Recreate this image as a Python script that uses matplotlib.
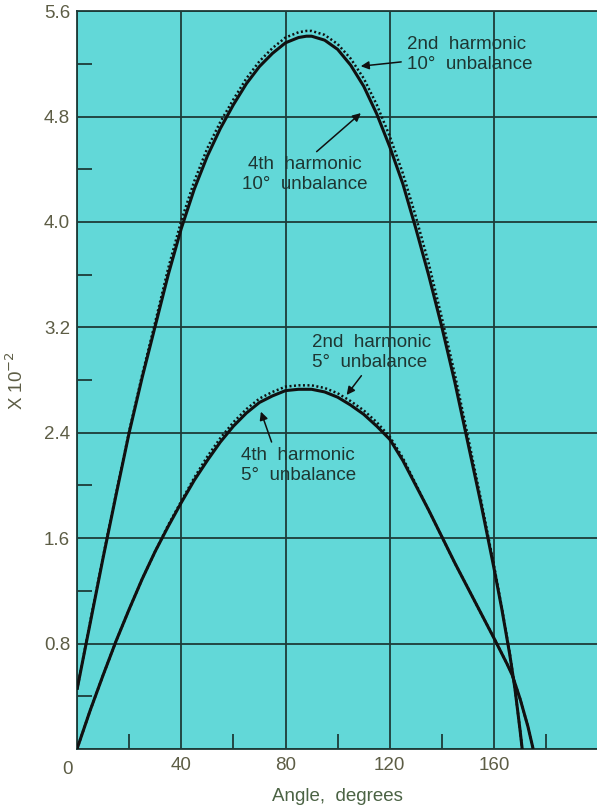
import matplotlib.pyplot as plt

plt.rcParams['font.family'] = ['Liberation Sans', 'DejaVu Sans']

# 10 degree unbalance, 4th harmonic (solid) and 2nd harmonic (dotted)
ang10 = [0, 5, 10, 15, 20, 25, 30, 35, 40, 45, 50, 55, 60, 65, 70, 75, 80, 85, 88,
         90, 95, 100, 105, 110, 115, 120, 125, 130, 135, 140, 145, 150, 155, 160,
         163, 166, 168, 170, 170.8]
h4_10 = [0.45, 0.95, 1.45, 1.93, 2.40, 2.82, 3.21, 3.60, 3.95, 4.25, 4.50, 4.71, 4.89,
         5.05, 5.18, 5.28, 5.36, 5.40, 5.41, 5.41, 5.38, 5.31, 5.19, 5.03, 4.82, 4.57,
         4.29, 3.95, 3.59, 3.20, 2.78, 2.32, 1.86, 1.37, 1.06, 0.72, 0.46, 0.14, 0.0]
h2_10 = [0.45, 0.96, 1.46, 1.94, 2.41, 2.84, 3.24, 3.65, 4.01, 4.31, 4.56, 4.76, 4.93,
         5.09, 5.22, 5.32, 5.40, 5.44, 5.45, 5.45, 5.42, 5.35, 5.24, 5.09, 4.89, 4.65,
         4.37, 4.04, 3.68, 3.27, 2.84, 2.37, 1.89, 1.39, 1.07, 0.73, 0.46, 0.14, 0.0]

# 5 degree unbalance
ang5 = [0, 5, 10, 15, 20, 25, 30, 35, 40, 45, 50, 55, 60, 65, 70, 75, 80, 85, 90,
        95, 100, 105, 110, 115, 120, 125, 130, 135, 140, 145, 150, 155, 160, 165,
        167, 170, 173, 175]
h4_5 = [0.0, 0.29, 0.56, 0.82, 1.06, 1.29, 1.50, 1.69, 1.87, 2.04, 2.19, 2.33, 2.45,
        2.55, 2.63, 2.68, 2.72, 2.73, 2.73, 2.71, 2.67, 2.61, 2.54, 2.45, 2.35, 2.19,
        2.00, 1.81, 1.61, 1.41, 1.22, 1.03, 0.84, 0.645, 0.56, 0.38, 0.17, 0.0]
h2_5 = [0.0, 0.29, 0.56, 0.82, 1.06, 1.29, 1.50, 1.70, 1.88, 2.06, 2.22, 2.36, 2.48,
        2.58, 2.66, 2.71, 2.75, 2.76, 2.76, 2.74, 2.70, 2.64, 2.57, 2.48, 2.37, 2.21,
        2.01, 1.81, 1.61, 1.41, 1.22, 1.03, 0.84, 0.645, 0.56, 0.38, 0.17, 0.0]

xticks = [0, 40, 80, 120, 160]
xtick_labels = ['', '40', '80', '120', '160']
yticks = [0, 0.8, 1.6, 2.4, 3.2, 4.0, 4.8, 5.6]
ytick_labels = ['', '0.8', '1.6', '2.4', '3.2', '4.0', '4.8', '5.6']

bg = '#62d8d8'
grid_c = '#1d3b38'
tick_c = '#5d5d45'
txt_c = '#1e3632'

fig = plt.figure(figsize=(5.97, 8.09), dpi=100)
ax = fig.add_axes([0.129, 0.0742, 0.871, 0.912])
ax.set_facecolor(bg)

ax.plot(ang10, h4_10, color='#111111', lw=2.2, solid_capstyle='butt', zorder=3)
ax.plot(ang10, h2_10, color='#111111', lw=1.8, ls=(0, (0.8, 1.0)), zorder=3)
ax.plot(ang5, h4_5, color='#111111', lw=2.2, solid_capstyle='butt', zorder=3)
ax.plot(ang5, h2_5, color='#111111', lw=1.8, ls=(0, (0.8, 1.0)), zorder=3)

ax.set_xlim(0, 199.5)
ax.set_ylim(0, 5.6)
ax.set_xticks(xticks)
ax.set_xticklabels(xtick_labels)
ax.set_yticks(yticks)
ax.set_yticklabels(ytick_labels)
ax.set_xticks([20, 60, 100, 140, 180], minor=True)
ax.set_yticks([0.4, 1.2, 2.0, 2.8, 3.6, 4.4, 5.2], minor=True)
ax.tick_params(which='major', length=0, labelsize=13.5, labelcolor=tick_c)
ax.tick_params(axis='y', which='major', pad=5)
ax.tick_params(axis='x', which='major', pad=6)
ax.tick_params(which='minor', direction='in', length=11, width=1.3, color=grid_c)
ax.grid(True, which='major', color=grid_c, lw=1.3)
ax.set_axisbelow(True)
for s in ['left', 'bottom', 'top']:
    ax.spines[s].set_color(grid_c)
    ax.spines[s].set_linewidth(1.3)
ax.spines['right'].set_visible(False)

# 0 label sits left of the corner
ax.text(-3.8, -0.09, '0', ha='center', va='top', fontsize=13.5, color=tick_c)

ax.set_xlabel('Angle,  degrees', fontsize=13.5, color='#4b6344')
ax.xaxis.set_label_coords(0.5, -0.053)
ax.set_ylabel('X 10$^{-2}$', fontsize=13.5, color=tick_c)
ax.yaxis.set_label_coords(-0.096, 0.5)

arrow = dict(arrowstyle='-|>', color='#111111', lw=1.1, mutation_scale=12)
ax.annotate('2nd  harmonic\n10°  unbalance', xy=(107.8, 5.18), xytext=(126.5, 5.27),
            fontsize=13.5, color=txt_c, ha='left', va='center', linespacing=1.2,
            arrowprops=arrow)
ax.annotate('4th  harmonic\n10°  unbalance', xy=(109.7, 4.84), xytext=(87.5, 4.36),
            fontsize=13.5, color=txt_c, ha='center', va='center', linespacing=1.2,
            arrowprops=dict(arrow, relpos=(0.55, 1.0)))
ax.annotate('2nd  harmonic\n5°  unbalance', xy=(102.8, 2.67), xytext=(90, 3.01),
            fontsize=13.5, color=txt_c, ha='left', va='center', linespacing=1.2,
            arrowprops=dict(arrow, relpos=(0.45, 0.0)))
ax.annotate('4th  harmonic\n5°  unbalance', xy=(70.2, 2.58), xytext=(63, 2.15),
            fontsize=13.5, color=txt_c, ha='left', va='center', linespacing=1.2,
            arrowprops=dict(arrow, relpos=(0.28, 1.0)))

fig.savefig('out.png', dpi=100)
